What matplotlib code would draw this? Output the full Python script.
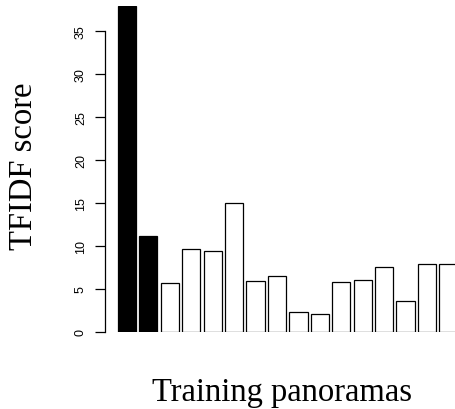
import matplotlib
matplotlib.use("Agg")
import matplotlib.pyplot as plt

# TFIDF score per training panorama (first two are the matched ones)
scores = [37.9, 11.2, 5.7, 9.6, 9.4, 15.0, 5.9, 6.5, 2.35, 2.1, 5.8, 6.1, 7.6, 3.6, 7.9, 7.9]
colors = ["black", "black"] + ["white"] * 14
y_ticks = [0, 5, 10, 15, 20, 25, 30, 35]

fig = plt.figure(figsize=(4.56, 4.10), dpi=100)
ax = fig.add_axes([105 / 456, 77 / 410, 351 / 456, 326 / 410])

x = list(range(len(scores)))
ax.bar(x, scores, width=0.85, color=colors, edgecolor="black", linewidth=0.9)

ax.set_xlim(-1.02, 15.35)
ax.set_ylim(0, max(scores))

for side in ["top", "right", "bottom"]:
    ax.spines[side].set_visible(False)
ax.spines["left"].set_bounds(0, 35)
ax.spines["left"].set_linewidth(0.9)
ax.set_xticks([])
ax.set_yticks(y_ticks)
ax.set_yticklabels([str(t) for t in y_ticks], rotation=90, va="center",
                   fontsize=9, family="Liberation Sans")
ax.tick_params(axis="y", length=7, width=0.9, pad=6)

fig.text(39 / 456, 1 - 166.5 / 410, "TFIDF score", rotation=90, ha="right", va="center",
         fontsize=23.5, family="Liberation Serif")
fig.text(282 / 456, 1 - 401.5 / 410, "Training panoramas", ha="center", va="baseline",
         fontsize=23.5, family="Liberation Serif")

fig.savefig("out.png", dpi=100)
